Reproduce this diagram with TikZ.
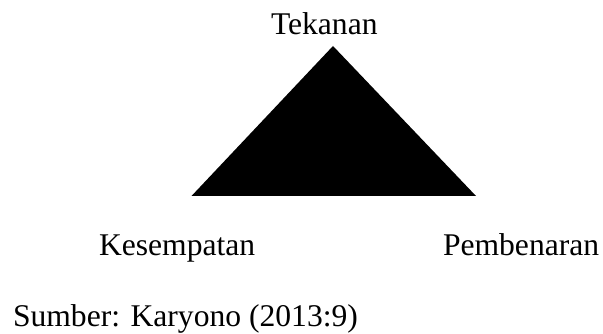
\documentclass[tikz,border=0pt]{standalone}
\usepackage{fontspec}
\setmainfont{Liberation Serif}
\begin{document}
\begin{tikzpicture}[x=1pt,y=1pt,
  lbl/.style={inner sep=0pt,outer sep=0pt,anchor=base west,font=\fontsize{31.6}{38}\selectfont}]
\useasboundingbox (0,0) rectangle (603,334);
\coordinate (top) at (333,288);
\coordinate (bl) at (191.5,138);
\coordinate (br) at (476,138);
\fill[black] (top) -- (bl) -- (br) -- cycle;
\node[lbl] (tekanan) at (271,299) {Tekanan};
\node[lbl] (kesempatan) at (99,78) {Kesempatan};
\node[lbl] (pembenaran) at (443,78) {Pembenaran};
\node[lbl] (sumber) at (13,7) {Sumber: Karyono (2013:9)};
\end{tikzpicture}
\end{document}
